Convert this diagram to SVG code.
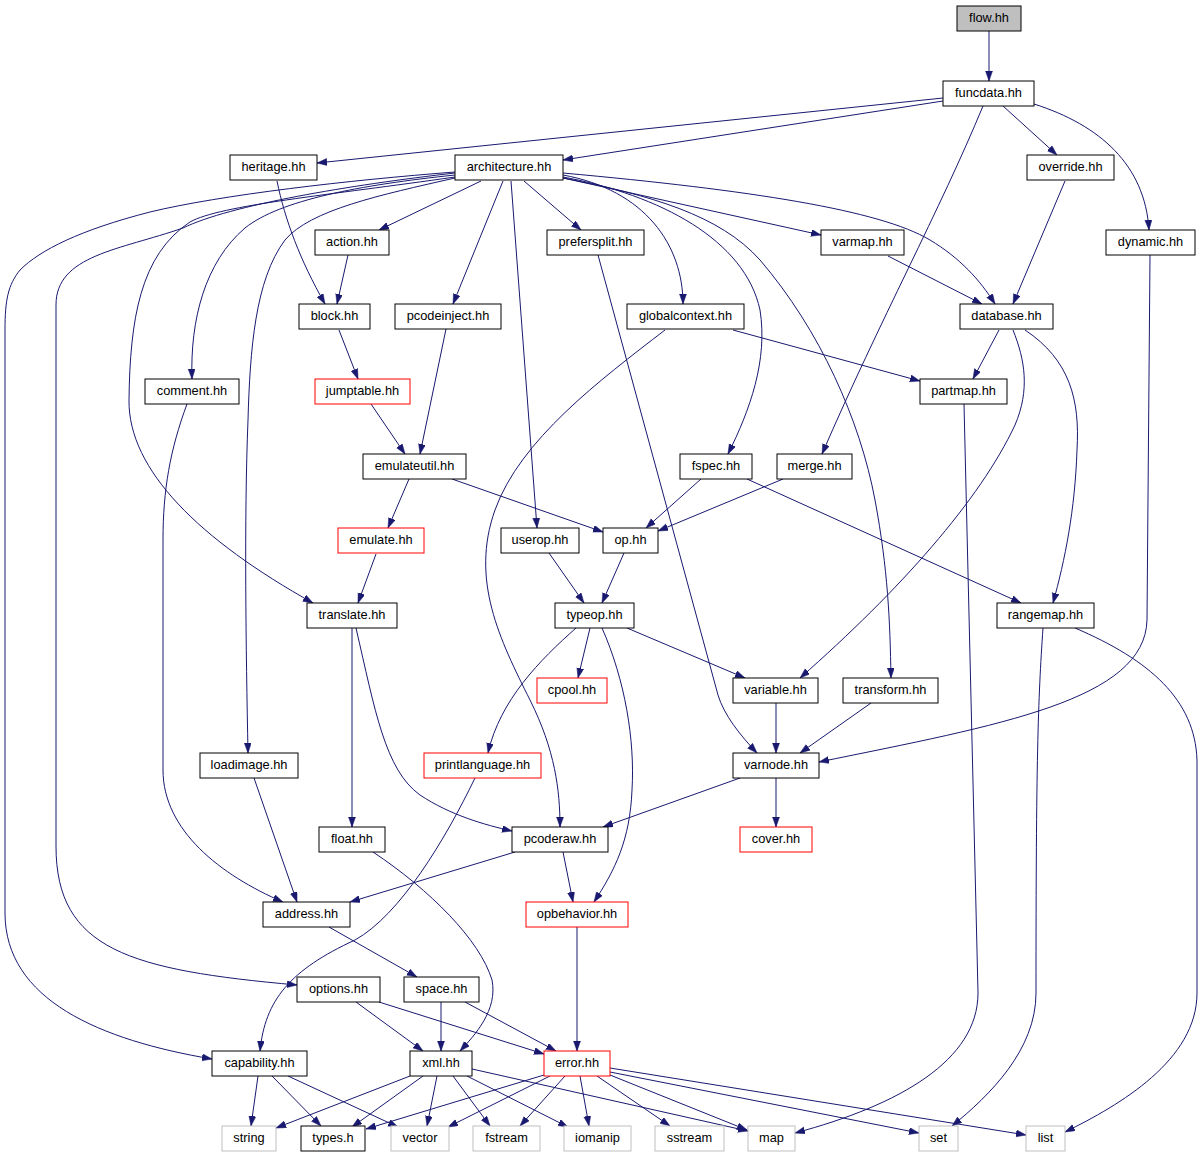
<svg xmlns="http://www.w3.org/2000/svg" width="1203" height="1157" viewBox="0 0 1203 1157">
<style>
.node rect{fill:#ffffff;stroke:#000000;stroke-width:1}
.node.red rect{stroke:#ff0000}
.node.ext rect{stroke:#bfbfbf}
.node.root rect{fill:#bfbfbf}
.node text{font-family:"Liberation Sans",Arial,sans-serif;font-size:12.8px;fill:#000;text-anchor:middle}
#edges path{fill:none;stroke:#191970;stroke-width:1;marker-end:url(#ah)}
</style>
<defs>
<marker id="ah" markerUnits="userSpaceOnUse" markerWidth="10" markerHeight="8" refX="10" refY="3.5" orient="auto">
<path d="M0,0 L10,3.5 L0,7 z" fill="#191970" stroke="#191970" stroke-width="0.5"/>
</marker>
</defs>
<rect x="0" y="0" width="1203" height="1157" fill="#ffffff"/>
<g id="edges">
<path d="M989,31 L989,81"/>
<path d="M943,98 L317,163"/>
<path d="M943,101 L563,160"/>
<path d="M983,106 C940,210 880,320 822,454"/>
<path d="M1003,106 L1057,155"/>
<path d="M1034,104 C1100,125 1145,165 1149,230"/>
<path d="M277,181 C285,220 300,260 325,304"/>
<path d="M348,255 L337,304"/>
<path d="M481,181 L379,230"/>
<path d="M503,181 L453,304"/>
<path d="M524,181 L581,230"/>
<path d="M511,181 L537,528"/>
<path d="M563,175 C645,190 683,245 683,304"/>
<path d="M563,177 C660,195 745,240 760,310 C768,360 750,410 728,454"/>
<path d="M563,178 C650,195 720,215 760,260 C820,330 860,420 875,500 C888,570 890,620 891,678"/>
<path d="M563,178 L821,235"/>
<path d="M563,173 C750,190 880,210 930,240 C960,258 980,280 995,304"/>
<path d="M455,175 C360,185 280,200 245,228 C205,262 190,320 192,379"/>
<path d="M455,178 C380,195 310,210 285,240 C255,280 250,350 248,420 C244,520 246,650 248,753"/>
<path d="M455,177 C330,195 220,205 190,222 C140,255 130,320 129,400 C128,470 200,540 313,603"/>
<path d="M455,173 C350,185 230,205 183,228 C120,250 56,255 56,305 L56,846 C56,950 130,970 297,985"/>
<path d="M455,172 C350,180 220,195 150,212 C80,230 40,250 20,270 C8,285 5,300 5,330 L5,913 C5,1000 100,1040 212,1059"/>
<path d="M598,255 L718,695 C724,715 740,735 757,753"/>
<path d="M733,330 L920,381"/>
<path d="M665,330 C600,380 520,440 495,510 C470,580 500,640 530,700 C555,750 560,790 560,827"/>
<path d="M888,256 L982,304"/>
<path d="M1065,181 L1013,304"/>
<path d="M999,330 L973,379"/>
<path d="M1013,330 C1025,360 1030,390 1015,425 C980,500 900,590 800,678"/>
<path d="M1025,330 C1070,360 1080,400 1077,450 C1075,510 1065,560 1053,603"/>
<path d="M1150,255 L1147,620 C1145,700 1000,725 819,762"/>
<path d="M964,404 L978,993 C978,1060 900,1105 795,1133"/>
<path d="M1043,628 C1038,700 1036,760 1036,993 C1036,1050 990,1095 952,1126"/>
<path d="M1075,628 C1150,660 1195,700 1197,760 L1197,993 C1197,1060 1120,1105 1065,1132"/>
<path d="M339,330 L358,379"/>
<path d="M371,404 L405,454"/>
<path d="M446,329 L420,454"/>
<path d="M409,479 L388,528"/>
<path d="M452,479 L603,532"/>
<path d="M376,554 L358,603"/>
<path d="M701,479 L646,528"/>
<path d="M747,479 L1021,603"/>
<path d="M783,479 L658,531"/>
<path d="M549,553 L584,603"/>
<path d="M624,553 L602,603"/>
<path d="M590,628 L578,678"/>
<path d="M627,628 L745,678"/>
<path d="M576,628 C540,660 500,700 488,753"/>
<path d="M602,628 C625,680 635,740 632,790 C630,840 615,870 594,902"/>
<path d="M352,628 L352,827"/>
<path d="M356,628 C375,710 385,770 420,795 C450,815 485,825 512,831"/>
<path d="M776,703 L776,753"/>
<path d="M871,703 L800,753"/>
<path d="M740,778 L603,827"/>
<path d="M776,778 L776,827"/>
<path d="M187,404 C170,450 163,490 163,540 L163,770 C163,830 220,875 283,902"/>
<path d="M254,778 L297,902"/>
<path d="M515,852 L350,902"/>
<path d="M563,852 L573,902"/>
<path d="M475,778 C445,840 400,915 355,940 C290,970 265,1000 260,1051"/>
<path d="M373,852 C430,890 480,940 492,980 C498,1010 475,1035 460,1051"/>
<path d="M329,927 L417,977"/>
<path d="M577,927 L577,1051"/>
<path d="M356,1002 L423,1051"/>
<path d="M379,1002 L544,1054"/>
<path d="M441,1002 L441,1051"/>
<path d="M465,1002 L556,1051"/>
<path d="M258,1076 L251,1126"/>
<path d="M272,1076 L321,1126"/>
<path d="M288,1076 L398,1127"/>
<path d="M410,1076 L276,1128"/>
<path d="M423,1076 L352,1127"/>
<path d="M437,1076 L427,1126"/>
<path d="M453,1076 L490,1126"/>
<path d="M467,1076 L568,1127"/>
<path d="M472,1069 L748,1131"/>
<path d="M544,1075 L366,1129"/>
<path d="M550,1076 L448,1127"/>
<path d="M565,1076 L520,1126"/>
<path d="M580,1076 L589,1126"/>
<path d="M597,1076 L670,1126"/>
<path d="M610,1075 L747,1130"/>
<path d="M610,1072 L919,1133"/>
<path d="M610,1068 L1026,1135"/>
</g>
<g id="node-flow" class="node root"><rect x="957" y="6" width="64" height="25"/><text x="989" y="22">flow.hh</text></g>
<g id="node-funcdata" class="node"><rect x="943" y="81" width="91" height="25"/><text x="988.5" y="97">funcdata.hh</text></g>
<g id="node-heritage" class="node"><rect x="230" y="155" width="87" height="25"/><text x="273.5" y="171">heritage.hh</text></g>
<g id="node-architecture" class="node"><rect x="455" y="155" width="108" height="25"/><text x="509" y="171">architecture.hh</text></g>
<g id="node-override" class="node"><rect x="1027" y="155" width="87" height="25"/><text x="1070.5" y="171">override.hh</text></g>
<g id="node-action" class="node"><rect x="315" y="230" width="74" height="25"/><text x="352" y="246">action.hh</text></g>
<g id="node-prefersplit" class="node"><rect x="547" y="230" width="97" height="25"/><text x="595.5" y="246">prefersplit.hh</text></g>
<g id="node-varmap" class="node"><rect x="821" y="230" width="83" height="25"/><text x="862.5" y="246">varmap.hh</text></g>
<g id="node-dynamic" class="node"><rect x="1106" y="230" width="89" height="25"/><text x="1150.5" y="246">dynamic.hh</text></g>
<g id="node-block" class="node"><rect x="299" y="304" width="71" height="25"/><text x="334.5" y="320">block.hh</text></g>
<g id="node-pcodeinject" class="node"><rect x="395" y="304" width="106" height="25"/><text x="448" y="320">pcodeinject.hh</text></g>
<g id="node-globalcontext" class="node"><rect x="627" y="304" width="117" height="25"/><text x="685.5" y="320">globalcontext.hh</text></g>
<g id="node-database" class="node"><rect x="960" y="304" width="93" height="25"/><text x="1006.5" y="320">database.hh</text></g>
<g id="node-comment" class="node"><rect x="145" y="379" width="94" height="25"/><text x="192" y="395">comment.hh</text></g>
<g id="node-jumptable" class="node red"><rect x="315" y="379" width="95" height="25"/><text x="362.5" y="395">jumptable.hh</text></g>
<g id="node-partmap" class="node"><rect x="920" y="379" width="87" height="25"/><text x="963.5" y="395">partmap.hh</text></g>
<g id="node-emulateutil" class="node"><rect x="363" y="454" width="103" height="25"/><text x="414.5" y="470">emulateutil.hh</text></g>
<g id="node-fspec" class="node"><rect x="680" y="454" width="72" height="25"/><text x="716" y="470">fspec.hh</text></g>
<g id="node-merge" class="node"><rect x="777" y="454" width="75" height="25"/><text x="814.5" y="470">merge.hh</text></g>
<g id="node-emulate" class="node red"><rect x="338" y="528" width="86" height="25"/><text x="381" y="544">emulate.hh</text></g>
<g id="node-userop" class="node"><rect x="501" y="528" width="78" height="25"/><text x="540" y="544">userop.hh</text></g>
<g id="node-op" class="node"><rect x="603" y="528" width="55" height="25"/><text x="630.5" y="544">op.hh</text></g>
<g id="node-translate" class="node"><rect x="307" y="603" width="90" height="25"/><text x="352" y="619">translate.hh</text></g>
<g id="node-typeop" class="node"><rect x="555" y="603" width="79" height="25"/><text x="594.5" y="619">typeop.hh</text></g>
<g id="node-rangemap" class="node"><rect x="997" y="603" width="97" height="25"/><text x="1045.5" y="619">rangemap.hh</text></g>
<g id="node-cpool" class="node red"><rect x="537" y="678" width="70" height="25"/><text x="572" y="694">cpool.hh</text></g>
<g id="node-variable" class="node"><rect x="733" y="678" width="85" height="25"/><text x="775.5" y="694">variable.hh</text></g>
<g id="node-transform" class="node"><rect x="843" y="678" width="95" height="25"/><text x="890.5" y="694">transform.hh</text></g>
<g id="node-loadimage" class="node"><rect x="200" y="753" width="98" height="25"/><text x="249" y="769">loadimage.hh</text></g>
<g id="node-printlanguage" class="node red"><rect x="424" y="753" width="117" height="25"/><text x="482.5" y="769">printlanguage.hh</text></g>
<g id="node-varnode" class="node"><rect x="733" y="753" width="86" height="25"/><text x="776" y="769">varnode.hh</text></g>
<g id="node-float" class="node"><rect x="319" y="827" width="66" height="25"/><text x="352" y="843">float.hh</text></g>
<g id="node-pcoderaw" class="node"><rect x="512" y="827" width="96" height="25"/><text x="560" y="843">pcoderaw.hh</text></g>
<g id="node-cover" class="node red"><rect x="740" y="827" width="72" height="25"/><text x="776" y="843">cover.hh</text></g>
<g id="node-address" class="node"><rect x="263" y="902" width="87" height="25"/><text x="306.5" y="918">address.hh</text></g>
<g id="node-opbehavior" class="node red"><rect x="526" y="902" width="102" height="25"/><text x="577" y="918">opbehavior.hh</text></g>
<g id="node-options" class="node"><rect x="297" y="977" width="83" height="25"/><text x="338.5" y="993">options.hh</text></g>
<g id="node-space" class="node"><rect x="404" y="977" width="75" height="25"/><text x="441.5" y="993">space.hh</text></g>
<g id="node-capability" class="node"><rect x="212" y="1051" width="95" height="25"/><text x="259.5" y="1067">capability.hh</text></g>
<g id="node-xml" class="node"><rect x="410" y="1051" width="62" height="25"/><text x="441" y="1067">xml.hh</text></g>
<g id="node-error" class="node red"><rect x="544" y="1051" width="66" height="25"/><text x="577" y="1067">error.hh</text></g>
<g id="node-string" class="node ext"><rect x="222" y="1126" width="54" height="25"/><text x="249" y="1142">string</text></g>
<g id="node-types" class="node"><rect x="301" y="1126" width="64" height="25"/><text x="333" y="1142">types.h</text></g>
<g id="node-vector" class="node ext"><rect x="391" y="1126" width="58" height="25"/><text x="420" y="1142">vector</text></g>
<g id="node-fstream" class="node ext"><rect x="473" y="1126" width="67" height="25"/><text x="506.5" y="1142">fstream</text></g>
<g id="node-iomanip" class="node ext"><rect x="564" y="1126" width="67" height="25"/><text x="597.5" y="1142">iomanip</text></g>
<g id="node-sstream" class="node ext"><rect x="655" y="1126" width="69" height="25"/><text x="689.5" y="1142">sstream</text></g>
<g id="node-map" class="node ext"><rect x="748" y="1126" width="47" height="25"/><text x="771.5" y="1142">map</text></g>
<g id="node-set" class="node ext"><rect x="919" y="1126" width="39" height="25"/><text x="938.5" y="1142">set</text></g>
<g id="node-list" class="node ext"><rect x="1026" y="1126" width="39" height="25"/><text x="1045.5" y="1142">list</text></g>
</svg>
